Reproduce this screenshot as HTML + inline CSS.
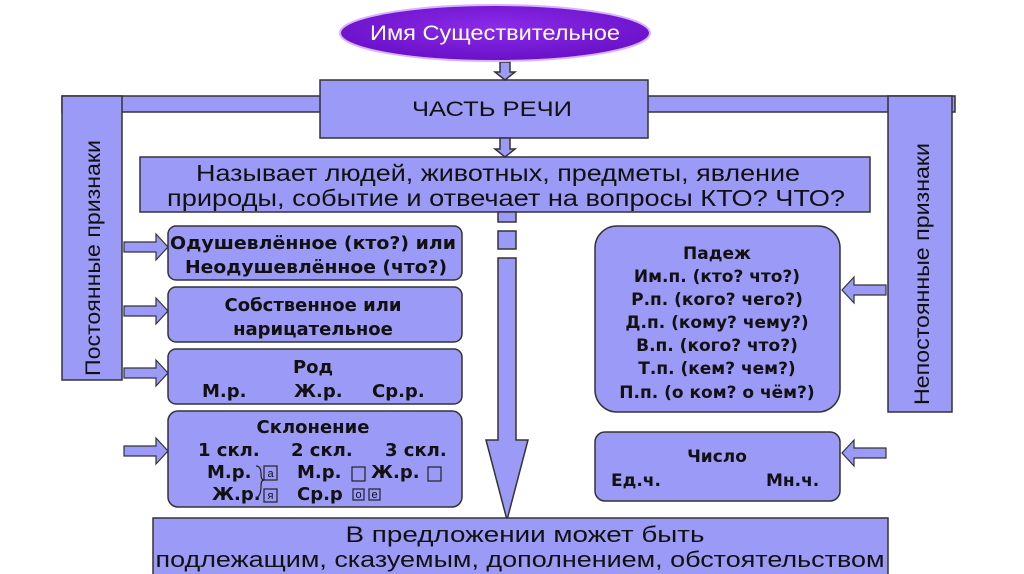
<!DOCTYPE html>
<html><head><meta charset="utf-8"><style>
html,body{margin:0;padding:0;background:#fff;width:1024px;height:574px;overflow:hidden}
svg{display:block}
text{font-family:"Liberation Sans",sans-serif;fill:#111}
.b{font-family:"DejaVu Sans","Liberation Sans",sans-serif;font-weight:bold}
</style></head><body>
<svg width="1024" height="574" viewBox="0 0 1024 574" xmlns="http://www.w3.org/2000/svg">
<defs>
<radialGradient id="eg" cx="50%" cy="40%" r="60%"><stop offset="0" stop-color="#8a2be8"/><stop offset="1" stop-color="#6a10c8"/></radialGradient>
</defs>
<g fill="#9b9bf7" stroke="#333" stroke-width="1.5">
<rect x="62" y="96" width="893" height="16"/>
<rect x="62" y="96" width="60" height="284"/>
<rect x="888" y="96" width="64" height="316"/>
<rect x="320" y="80" width="328" height="58"/>
<rect x="140" y="157" width="730" height="55"/>
<path d="M500 62 h10 v10 h5 l-10 8 l-10 -8 h5z"/>
<path d="M500 138 h10 v11 h5 l-10 8 l-10 -8 h5z"/>
<rect x="498" y="212" width="18" height="10"/>
<rect x="498" y="231" width="18" height="18"/>
<path d="M498 258 h18 v182 h12 l-21 80 l-21 -80 h12z"/>
<rect x="168" y="226" width="294" height="54" rx="8"/>
<rect x="168" y="287" width="294" height="55" rx="8"/>
<rect x="168" y="349" width="294" height="55" rx="8"/>
<rect x="168" y="411" width="294" height="96" rx="10"/>
<rect x="595" y="226" width="245" height="186" rx="22"/>
<rect x="595" y="432" width="245" height="69" rx="10"/>
<rect x="153" y="518" width="735" height="60"/>
</g>
<g fill="#9b9bf7" stroke="#333" stroke-width="1.2">
<path d="M124 242 h32 v-8 l12 13 l-12 13 v-8 h-32z"/>
<path d="M124 306 h32 v-8 l12 13 l-12 13 v-8 h-32z"/>
<path d="M124 368 h32 v-8 l12 13 l-12 13 v-8 h-32z"/>
<path d="M124 446 h32 v-8 l12 13 l-12 13 v-8 h-32z"/>
<path d="M886 285 h-32 v-8 l-12 13 l12 13 v-8 h32z"/>
<path d="M886 448 h-32 v-8 l-12 13 l12 13 v-8 h32z"/>
</g>
<ellipse cx="495" cy="33" rx="155" ry="28" fill="url(#eg)" stroke="#d9b3ff" stroke-width="2"/>
<text x="495" y="40" text-anchor="middle" font-size="21" style="fill:#fff" textLength="250" lengthAdjust="spacingAndGlyphs">Имя Существительное</text>
<text x="492" y="116" text-anchor="middle" font-size="21" textLength="160" lengthAdjust="spacingAndGlyphs">ЧАСТЬ РЕЧИ</text>
<text x="498" y="181" text-anchor="middle" font-size="23" textLength="604" lengthAdjust="spacingAndGlyphs">Называет людей, животных, предметы, явление</text>
<text x="506" y="206" text-anchor="middle" font-size="23" textLength="678" lengthAdjust="spacingAndGlyphs">природы, событие и отвечает на вопросы КТО? ЧТО?</text>
<text transform="translate(100 258) rotate(-90)" text-anchor="middle" font-size="21" textLength="236" lengthAdjust="spacingAndGlyphs">Постоянные признаки</text>
<text transform="translate(929 274) rotate(-90)" text-anchor="middle" font-size="21" textLength="262" lengthAdjust="spacingAndGlyphs">Непостоянные признаки</text>
<g font-size="18" text-anchor="middle">
<text class="b" x="313" y="249" textLength="286" lengthAdjust="spacingAndGlyphs">Одушевлённое (кто?) или</text>
<text class="b" x="316" y="273" textLength="262" lengthAdjust="spacingAndGlyphs">Неодушевлённое (что?)</text>
<text class="b" x="313" y="311">Собственное или</text>
<text class="b" x="313" y="335">нарицательное</text>
<text class="b" x="313" y="373">Род</text>
<text class="b" x="202" y="397" text-anchor="start">М.р.</text>
<text class="b" x="294" y="397" text-anchor="start">Ж.р.</text>
<text class="b" x="372" y="397" text-anchor="start">Ср.р.</text>
<text class="b" x="313" y="433">Склонение</text>
<text class="b" x="198" y="456" text-anchor="start">1 скл.</text>
<text class="b" x="291" y="456" text-anchor="start">2 скл.</text>
<text class="b" x="385" y="456" text-anchor="start">3 скл.</text>
<text class="b" x="207" y="478" text-anchor="start">М.р.</text>
<text class="b" x="297" y="478" text-anchor="start">М.р.</text>
<text class="b" x="371" y="478" text-anchor="start">Ж.р.</text>
<text class="b" x="212" y="500" text-anchor="start">Ж.р.</text>
<text class="b" x="297" y="500" text-anchor="start">Ср.р</text>
</g>
<g fill="none" stroke="#222" stroke-width="1.2">
<rect x="264" y="466" width="13" height="14"/>
<rect x="352" y="467" width="13" height="14"/>
<rect x="428" y="467" width="13" height="14"/>
<rect x="264" y="489" width="13" height="13"/>
<rect x="353" y="489" width="11" height="11"/>
<rect x="369" y="489" width="11" height="11"/>
<path d="M256 466 q5 0 5 8 q0 6 3 6 q-3 0 -3 6 q0 10 -5 12"/>
</g>
<g font-size="11" text-anchor="middle">
<text x="270.5" y="477">а</text>
<text x="270.5" y="499">я</text>
<text x="358.5" y="498">о</text>
<text x="374.5" y="498">е</text>
</g>
<g font-size="17" text-anchor="middle">
<text class="b" x="717" y="259">Падеж</text>
<text class="b" x="717" y="282">Им.п. (кто? что?)</text>
<text class="b" x="717" y="305">Р.п. (кого? чего?)</text>
<text class="b" x="717" y="328">Д.п. (кому? чему?)</text>
<text class="b" x="717" y="351">В.п. (кого? что?)</text>
<text class="b" x="717" y="374">Т.п. (кем? чем?)</text>
<text class="b" x="717" y="398">П.п. (о ком? о чём?)</text>
<text class="b" x="717" y="462">Число</text>
<text class="b" x="611" y="486" text-anchor="start">Ед.ч.</text>
<text class="b" x="766" y="486" text-anchor="start">Мн.ч.</text>
</g>
<text x="525" y="542" text-anchor="middle" font-size="22" textLength="359" lengthAdjust="spacingAndGlyphs">В предложении может быть</text>
<text x="520" y="567" text-anchor="middle" font-size="22" textLength="729" lengthAdjust="spacingAndGlyphs">подлежащим, сказуемым, дополнением, обстоятельством</text>
</svg>
</body></html>
